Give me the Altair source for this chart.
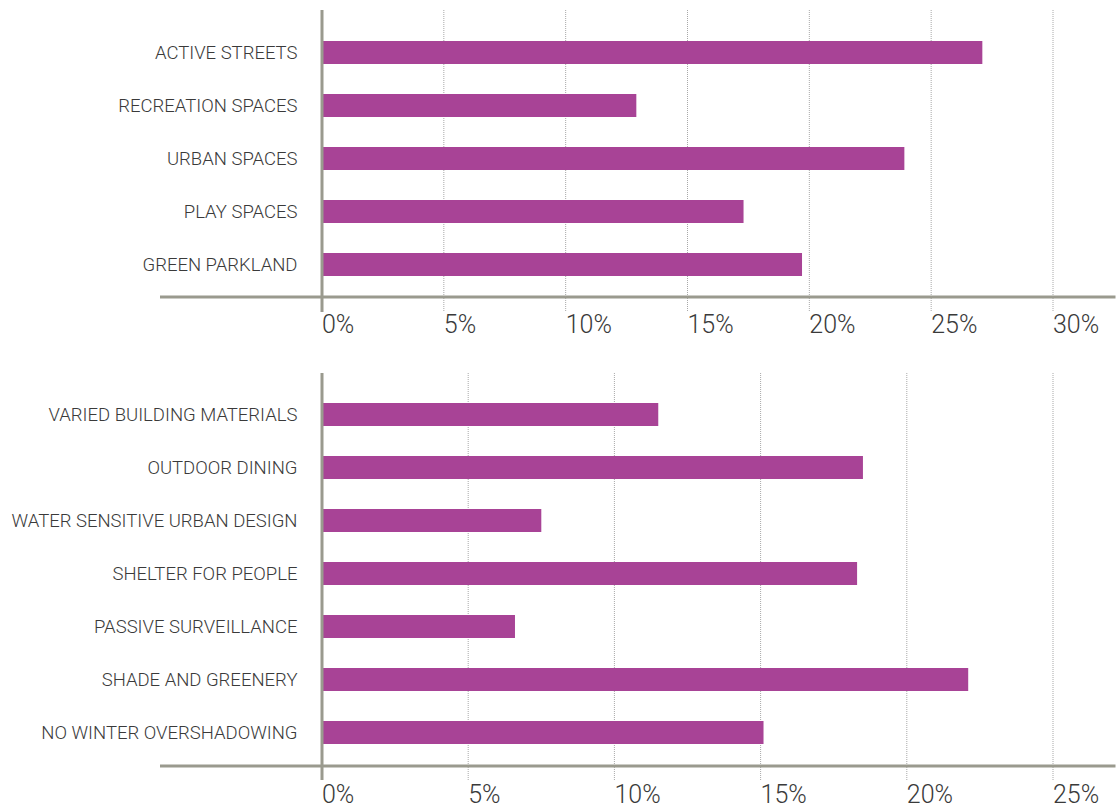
import altair as alt
import pandas as pd

# ---- data ----
top_categories = ["ACTIVE STREETS", "RECREATION SPACES", "URBAN SPACES", "PLAY SPACES", "GREEN PARKLAND"]
top_values = [27.1, 12.9, 23.9, 17.3, 19.7]
top_ticks = [0, 5, 10, 15, 20, 25, 30]
top_tick_labels = ["0%", "5%", "10%", "15%", "20%", "25%", "30%"]

bottom_categories = ["VARIED BUILDING MATERIALS", "OUTDOOR DINING", "WATER SENSITIVE URBAN DESIGN",
                     "SHELTER FOR PEOPLE", "PASSIVE SURVEILLANCE", "SHADE AND GREENERY",
                     "NO WINTER OVERSHADOWING"]
bottom_values = [11.5, 18.5, 7.5, 18.3, 6.6, 22.1, 15.1]
bottom_ticks = [0, 5, 10, 15, 20, 25]
bottom_tick_labels = ["0%", "5%", "10%", "15%", "20%", "25%"]

# ---- style ----
FONT = "Roboto"
PURPLE = "#a84396"
LINE = "#9a9a8e"
GRID = "#a8a8a8"
TEXT = "#3a3a3a"
W = 731


def panel(cats, vals, ticks, labels, h, axis_y, grid_top, grid_bot, lab_y, bbox=False):
    bars_df = pd.DataFrame({"category": cats, "value": vals})
    ticks_df = pd.DataFrame({"tick": ticks, "label": labels})
    xs = alt.Scale(domain=[0, ticks[-1]], nice=False, zero=True)
    ys = alt.Scale(paddingInner=0, paddingOuter=0)

    grid = alt.Chart(ticks_df).transform_filter("datum.tick > 0").mark_rule(
        color=GRID, strokeWidth=1, strokeDash=[1, 1]
    ).encode(
        x=alt.X("tick:Q", scale=xs, axis=None),
        y=alt.value(grid_top), y2=alt.value(grid_bot),
    )
    bars = alt.Chart(bars_df).mark_bar(color=PURPLE, size=23).encode(
        x=alt.X("value:Q", scale=xs, axis=None),
        y=alt.Y("category:N", sort=cats, scale=ys,
                axis=alt.Axis(title=None, domain=False, ticks=False, labelPadding=25,
                              labelFont=FONT, labelFontSize=18.5, labelFontWeight=300,
                              labelColor=TEXT, labelLimit=400)),
    )
    zero = alt.Chart(ticks_df).transform_filter("datum.tick == 0").mark_rule(
        color=LINE, strokeWidth=3
    ).encode(
        x=alt.X("tick:Q", scale=xs, axis=None),
        y=alt.value(grid_top), y2=alt.value(grid_bot),
    )
    hline = alt.Chart(ticks_df).transform_filter("datum.tick == 0").mark_rule(
        color=LINE, strokeWidth=3
    ).encode(x=alt.value(-162), x2=alt.value(793.5), y=alt.value(axis_y))
    tlabels = alt.Chart(ticks_df).mark_text(
        align="left", baseline="alphabetic", font=FONT, fontSize=25, fontWeight=300,
        color=TEXT
    ).encode(
        x=alt.X("tick:Q", scale=xs, axis=None),
        y=alt.value(lab_y),
        text="label:N",
    )
    layers = [grid, bars, zero, hline, tlabels]
    if bbox:
        box = alt.Chart(ticks_df).transform_filter("datum.tick == 0").mark_rule(
            strokeOpacity=0, strokeWidth=1, color="white"
        ).encode(x=alt.value(-321.5), x2=alt.value(780), y=alt.value(-25.5))
        layers.append(box)
    return alt.layer(*layers).properties(width=W, height=h)


top = panel(top_categories, top_values, top_ticks, top_tick_labels,
            265, 271, -16, 286, 307, bbox=True)
bottom = panel(bottom_categories, bottom_values, bottom_ticks, bottom_tick_labels,
               371, 378, -15, 392, 415)

chart = alt.vconcat(top, bottom, spacing=97, bounds="flush", padding=0,
                    background="white").configure_view(stroke=None)

chart.save("out.html", embed_options={"renderer": "svg", "actions": False})
